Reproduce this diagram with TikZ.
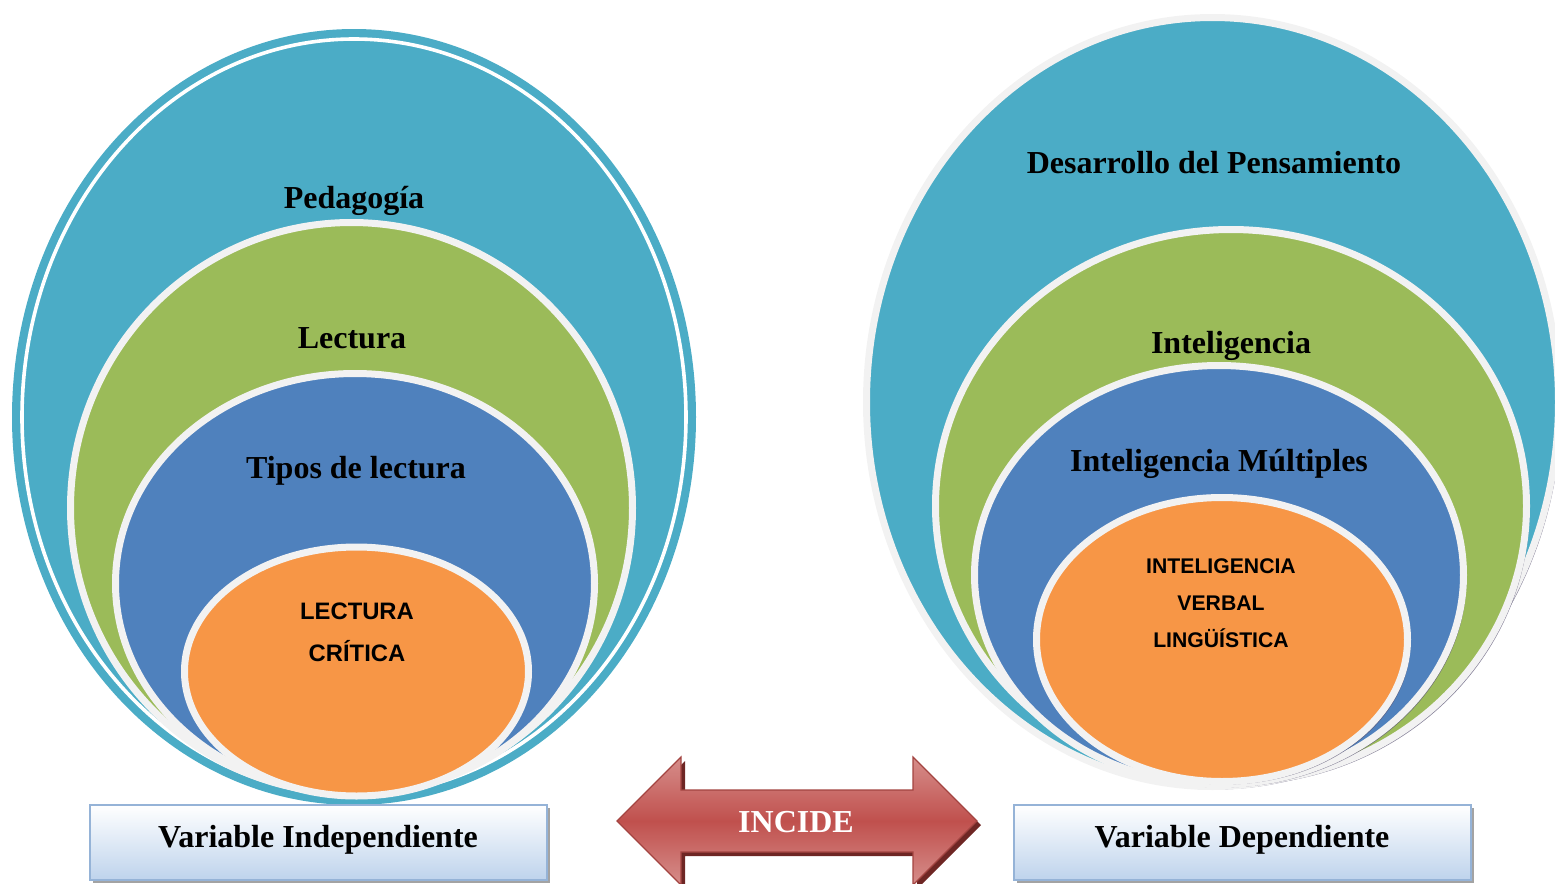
\documentclass[tikz,border=0pt]{standalone}
\usepackage{fontspec}
\setmainfont{Liberation Serif}
\newfontfamily\capsans{Liberation Sans}
\usetikzlibrary{shadows}
\definecolor{tealc}{HTML}{4BACC6}
\definecolor{grnc}{HTML}{9BBB59}
\definecolor{bluc}{HTML}{4F81BD}
\definecolor{orgc}{HTML}{F79646}
\definecolor{rimc}{HTML}{F2F2F2}
\definecolor{redA}{HTML}{C0504D}
\definecolor{redL}{HTML}{D68E8B}
\definecolor{redD}{HTML}{6E2624}
\definecolor{boxB}{HTML}{95B3D7}
\definecolor{boxF}{HTML}{BED3EC}
\definecolor{shadc}{HTML}{5E5877}
\tikzset{
  layer/.style={draw=rimc, line width=3.5pt},
  rshadow/.style={fill=shadc, opacity=0.75},
  seriflbl/.style={font=\bfseries\fontsize{16}{19}\selectfont, text=black, inner sep=0pt, anchor=base},
  capslbl/.style={font=\capsans\bfseries\fontsize{11.9}{14}\selectfont, text=black, inner sep=0pt, anchor=base},
  capslbls/.style={font=\capsans\bfseries\fontsize{10.6}{13}\selectfont, text=black, inner sep=0pt, anchor=base},
  varbox/.style={draw=boxB, line width=1.2pt, top color=white, bottom color=boxF,
     minimum width=228.5pt, minimum height=37.5pt, inner sep=0pt,
     drop shadow={shadow xshift=1.6pt, shadow yshift=-1.6pt, fill=black!45, opacity=0.8}},
}
\begin{document}
\begin{tikzpicture}[x=0.5pt,y=-0.5pt]
\useasboundingbox (0,0) rectangle (1555,884);
\clip (0,0) rectangle (1555,884);

% ---------------- left nested ellipses
\fill[tealc] (354,417) ellipse [x radius=342, y radius=388];
\draw[white, line width=1.8pt] (354,417) ellipse [x radius=332, y radius=378];
\filldraw[layer, fill=grnc] (351.5,508) ellipse [x radius=281, y radius=285.5];
\filldraw[layer, fill=bluc] (355,583.5) ellipse [x radius=239.5, y radius=210];
\filldraw[layer, fill=orgc] (356.5,671.5) ellipse [x radius=172, y radius=124.5];

% ---------------- right nested ellipses
\fill[rshadow] (1215.5,405) ellipse [x radius=346, y radius=384.5];
\filldraw[layer, fill=tealc] (1212.5,402) ellipse [x radius=346, y radius=384.5];
\fill[rshadow] (1234,509) ellipse [x radius=295.5, y radius=276.5];
\filldraw[layer, fill=grnc] (1231,506) ellipse [x radius=295.5, y radius=276.5];
\fill[rshadow] (1222,578) ellipse [x radius=244.5, y radius=209.5];
\filldraw[layer, fill=bluc] (1219,575) ellipse [x radius=244.5, y radius=209.5];
\fill[rshadow] (1225,642.5) ellipse [x radius=185.5, y radius=142];
\filldraw[layer, fill=orgc] (1222,639.5) ellipse [x radius=185.5, y radius=142];

% ---------------- labels left
\node[seriflbl] (ped) at (354,208) {Pedagogía};
\node[seriflbl] (lec) at (352,348) {Lectura};
\node[seriflbl] (tip) at (356,478) {Tipos de lectura};
\node[capslbl] (lc1) at (357,619) {LECTURA};
\node[capslbl] (lc2) at (357,661) {CRÍTICA};

% ---------------- labels right
\node[seriflbl] (des) at (1214,173) {Desarrollo del Pensamiento};
\node[seriflbl] (int) at (1231,353) {Inteligencia};
\node[seriflbl] (mul) at (1219,471) {Inteligencia Múltiples};
\node[capslbls] (iv1) at (1221,573) {INTELIGENCIA};
\node[capslbls] (iv2) at (1221,610) {VERBAL};
\node[capslbls] (iv3) at (1221,647) {LINGÜÍSTICA};

% ---------------- variable boxes
\node[varbox] (vi) at (318.5,842.5) {};
\node[seriflbl] (vit) at (318,847) {Variable Independiente};
\node[varbox] (vd) at (1242.5,842.5) {};
\node[seriflbl] (vdt) at (1242,847) {Variable Dependiente};

% ---------------- double arrow
\fill[redD] (621,825) -- (685,761) -- (685,794) -- (917,794) -- (917,761) -- (981,825)
  -- (917,889) -- (917,856) -- (685,856) -- (685,889) -- cycle;
\path[draw=redA!85!black, line width=0.6pt, top color=redL, bottom color=redL, middle color=redA]
  (617,821) -- (681,757) -- (681,790) -- (913,790) -- (913,757) -- (977,821)
  -- (913,885) -- (913,852) -- (681,852) -- (681,885) -- cycle;
\node[seriflbl, text=white] (inc) at (796,832) {INCIDE};
\end{tikzpicture}
\end{document}
